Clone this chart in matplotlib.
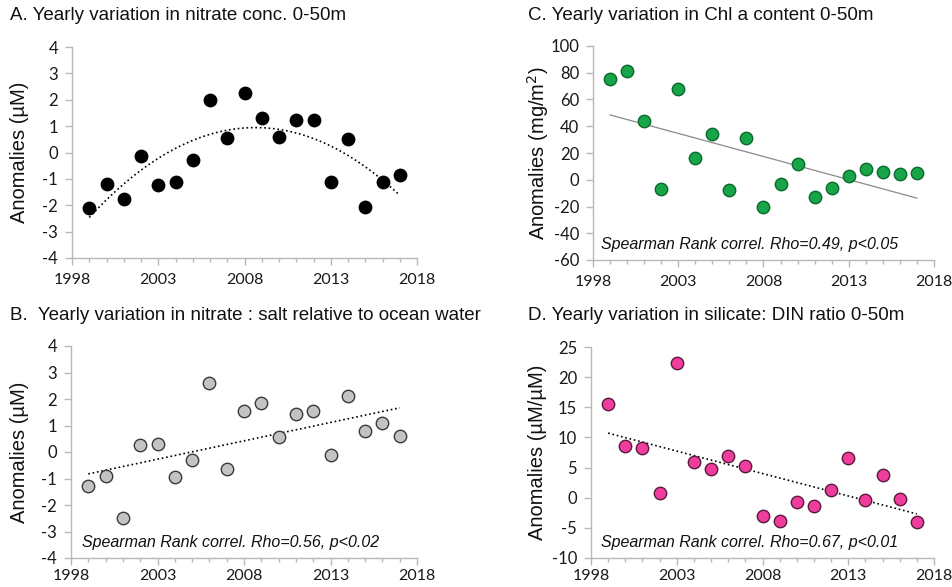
import numpy as np
import matplotlib
matplotlib.use("Agg")
import matplotlib.pyplot as plt
from matplotlib.ticker import MultipleLocator

plt.rcParams["axes.unicode_minus"] = False

years = list(range(1999, 2018))
nitrate = [-2.1, -1.2, -1.75, -0.15, -1.25, -1.1, -0.3, 2.0, 0.55, 2.25,
           1.3, 0.6, 1.25, 1.25, -1.1, 0.5, -2.05, -1.1, -0.85]
nitrate_salt = [-1.3, -0.9, -2.5, 0.25, 0.3, -0.95, -0.3, 2.6, -0.65, 1.55,
                1.85, 0.55, 1.45, 1.55, -0.1, 2.1, 0.8, 1.1, 0.6]
chla = [75, 81, 44, -7, 68, 16, 34, -8, 31, -20, -3, 12, -13, -6, 3, 8, 6, 4, 5]
si_din = [15.6, 8.5, 8.2, 0.8, 22.4, 5.9, 4.7, 6.9, 5.3, -3.1, -3.8, -0.7,
          -1.4, 1.2, 6.6, -0.4, 3.8, -0.2, -4.0]
xticks = [1998, 2003, 2008, 2013, 2018]

titles = ["A. Yearly variation in nitrate conc. 0-50m",
          "B.  Yearly variation in nitrate : salt relative to ocean water",
          "C. Yearly variation in Chl a content 0-50m",
          "D. Yearly variation in silicate: DIN ratio 0-50m"]
ylabels = ["Anomalies (\u00b5M)", "Anomalies (\u00b5M)",
           "Anomalies (mg/m$^2$)", "Anomalies (\u00b5M/\u00b5M)"]
notes = [None, "Spearman Rank correl. Rho=0.56, p<0.02",
         "Spearman Rank correl. Rho=0.49, p<0.05",
         "Spearman Rank correl. Rho=0.67, p<0.01"]

W, H = 953, 587
fig = plt.figure(figsize=(W / 100, H / 100), dpi=100)

def px_axes(l, t, r, b):
    return fig.add_axes([l / W, 1 - b / H, (r - l) / W, (b - t) / H])

panels = [
    dict(rect=(72, 47, 417, 258), y=nitrate, ylim=(-4, 4), ystep=1,
         fc="black", ec="black", deg=2, ls=":", lc="black", lw=1.2,
         title_xy=(10, 15), ylab_x=20, xpad=6),
    dict(rect=(71, 346, 417, 558), y=nitrate_salt, ylim=(-4, 4), ystep=1,
         fc="#c3c3c3", ec="#3a3a3a", deg=1, ls=":", lc="black", lw=1.2,
         title_xy=(10, 316), ylab_x=20, note_xy=(82, 543), xpad=3),
    dict(rect=(593, 46, 934, 260), y=chla, ylim=(-60, 100), ystep=20,
         fc="#18a448", ec="#0c6a2c", deg=1, ls="-", lc="#8a8a8a", lw=0.9,
         title_xy=(528, 15), ylab_x=538, note_xy=(601, 245), xpad=6),
    dict(rect=(591, 347, 934, 558), y=si_din, ylim=(-10, 25), ystep=5,
         fc="#ef3d9e", ec="#5a1a3c", deg=1, ls=":", lc="black", lw=1.2,
         title_xy=(528, 316), ylab_x=538, note_xy=(601, 543), xpad=3),
]

for i, p in enumerate(panels):
    ax = px_axes(*p["rect"])
    x = np.array(years, dtype=float)
    y = np.array(p["y"], dtype=float)
    coef = np.polyfit(x, y, p["deg"])
    xf = np.linspace(x.min(), x.max(), 200)
    ax.plot(xf, np.polyval(coef, xf), linestyle=p["ls"], color=p["lc"],
            lw=p["lw"], zorder=2)
    ax.scatter(x, y, s=80, facecolor=p["fc"], edgecolor=p["ec"],
               linewidth=1.0, zorder=3)
    ax.set_xlim(1998, 2018)
    ax.set_ylim(*p["ylim"])
    ax.set_xticks(xticks)
    ax.xaxis.set_minor_locator(MultipleLocator(1))
    ax.yaxis.set_major_locator(MultipleLocator(p["ystep"]))
    for s in ["top", "right"]:
        ax.spines[s].set_visible(False)
    for s in ["left", "bottom"]:
        ax.spines[s].set_color("#b8b8b8")
        ax.spines[s].set_linewidth(1.0)
    ax.tick_params(axis="both", which="major", direction="out", length=5,
                   color="#b8b8b8", width=1.0, labelsize=12, labelcolor="#1a1a1a")
    ax.tick_params(axis="x", which="major", pad=p["xpad"], labelsize=11.5)
    ax.tick_params(axis="y", which="major", pad=5)
    ax.tick_params(axis="x", which="minor", direction="out", length=3,
                   color="#b8b8b8", width=1.0)
    for lab in ax.get_xticklabels() + ax.get_yticklabels():
        lab.set_fontfamily("Lato")
    tx, ty = p["title_xy"]
    fig.text(tx / W, 1 - ty / H, titles[i], ha="left", va="center",
             fontsize=13.5, family="Liberation Sans", color="#111111")
    l, t, r, b = p["rect"]
    fig.text(p["ylab_x"] / W, 1 - ((t + b) / 2) / H, ylabels[i], rotation=90,
             ha="center", va="center", fontsize=14.5, family="Liberation Sans",
             color="#111111")
    if notes[i]:
        nx, ny = p["note_xy"]
        fig.text(nx / W, 1 - ny / H, notes[i], ha="left", va="center",
                 fontsize=11.5, style="italic", family="Liberation Sans",
                 color="#111111")

fig.savefig("out.png", dpi=100)
